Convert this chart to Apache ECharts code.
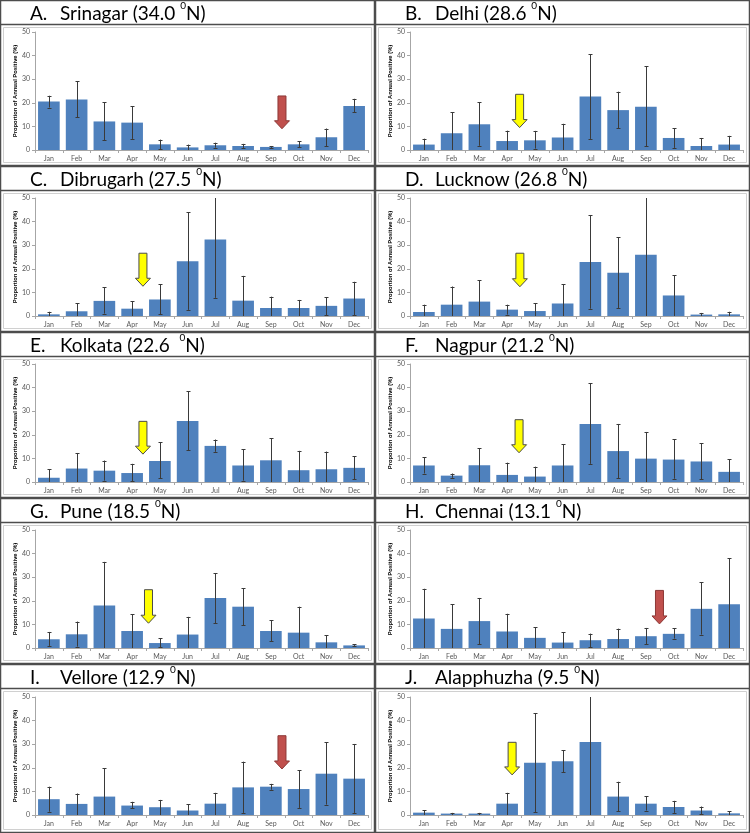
<!DOCTYPE html>
<html><head><meta charset="utf-8">
<script src="https://cdn.jsdelivr.net/npm/echarts@6/dist/echarts.min.js"></script>
<style>html,body{margin:0;padding:0;background:#fff}#c{width:750px;height:833px}</style>
</head><body><div id="c"></div>
<script>
// ---------- DATA ----------
const months = ['Jan','Feb','Mar','Apr','May','Jun','Jul','Aug','Sep','Oct','Nov','Dec'];
const yTickValues = [0, 10, 20, 30, 40, 50];
const yAxisTitle = 'Proportion of Annual Positive (%)';

const letters = ['A.','B.','C.','D.','E.','F.','G.','H.','I.','J.'];
const cities = ['Srinagar','Delhi','Dibrugarh','Lucknow','Kolkata','Nagpur','Pune','Chennai','Vellore','Alapphuzha'];
const latitudes = ['34.0 ','28.6 ','27.5 ','26.8 ','22.6  ','21.2 ','18.5 ','13.1 ','12.9 ','9.5 '];

const srinagarVal  = [20.5,21.4,12.1,11.6,2.4,1.1,2.0,1.7,1.3,2.4,5.4,18.6];
const srinagarLow  = [18.0,13.8,4.1,4.7,0.3,0,1.0,0.9,0.9,1.1,1.7,15.9];
const srinagarHigh = [23.0,29.1,20.2,18.5,4.4,2.3,3.1,2.6,1.7,3.8,9.1,21.7];

const delhiVal  = [2.3,7.1,10.9,3.8,4.1,5.3,22.7,16.9,18.3,5.1,1.7,2.3];
const delhiLow  = [0,0,1.8,0,0.6,0,4.7,9.2,1.6,0.9,0,0];
const delhiHigh = [4.8,15.9,20.2,8.2,8.1,11.1,40.6,24.7,35.5,9.2,5.1,6.0];

const dibrugarhVal  = [0.7,2.0,6.4,3.1,7.0,23.2,32.4,6.5,3.4,3.4,4.3,7.4];
const dibrugarhLow  = [0,0,1.0,0,0.7,2.6,7.7,0,0,0,0.4,0.4];
const dibrugarhHigh = [1.8,5.4,12.1,6.3,13.4,44.0,50,17.0,8.2,6.8,8.0,14.5];

const lucknowVal  = [1.7,4.8,6.1,2.7,2.1,5.3,22.9,18.3,26.0,8.7,0.6,0.7];
const lucknowLow  = [0,0,0,0.6,0,0,3.1,3.4,0,0,0,0];
const lucknowHigh = [4.8,12.5,15.1,4.8,5.4,13.5,42.8,33.4,50,17.3,1.3,1.8];

const kolkataVal  = [1.8,5.7,4.8,3.8,8.9,25.9,15.3,7.0,9.2,5.0,5.4,6.0];
const kolkataLow  = [0,0,0.6,0.3,1.6,13.4,12.8,0.6,0,0,0,1.1];
const kolkataHigh = [5.3,12.3,9.1,7.7,16.8,38.5,18.0,13.9,18.5,13.2,12.9,10.9];

const nagpurVal  = [7.0,2.7,7.1,3.0,2.3,7.0,24.6,13.1,9.9,9.5,8.7,4.3];
const nagpurLow  = [3.6,1.8,0,0,0,0,7.7,1.6,0,1.4,1.1,0];
const nagpurHigh = [10.4,3.6,14.3,8.2,6.5,15.9,41.9,24.6,21.2,18.2,16.5,9.7];

const puneVal  = [3.7,5.8,18.0,7.2,2.1,5.7,21.2,17.5,7.2,6.5,2.4,1.1];
const puneLow  = [0.9,0.6,0,0,0.4,0,10.5,9.7,2.8,0,0,0.9];
const puneHigh = [6.8,11.2,36.5,14.3,4.1,13.2,31.7,25.4,11.8,17.5,5.4,1.6];

const chennaiVal  = [12.5,8.1,11.4,7.0,4.3,2.3,3.3,3.8,5.0,6.0,16.6,18.5];
const chennaiLow  = [0,0,1.7,0,0,0,0.4,0,1.6,4.0,5.7,0];
const chennaiHigh = [25.1,18.6,21.2,14.5,8.8,6.7,6.1,8.2,8.5,8.4,27.8,38.1];

const velloreVal  = [6.7,4.7,7.8,4.0,3.3,1.9,4.8,11.7,12.0,11.0,17.5,15.4];
const velloreLow  = [1.4,0,0,2.8,0,0,0,0.9,10.7,3.0,4.4,0.9];
const velloreHigh = [12.0,9.1,19.9,5.6,6.4,4.6,9.4,22.6,13.2,18.9,30.8,30.1];

const alapphuzhaVal  = [1.0,0.6,0.6,4.8,22.1,22.8,30.9,7.8,4.8,3.4,1.9,0.7];
const alapphuzhaLow  = [0,0,0,0,1.3,18.1,0,1.6,1.9,0.9,0.4,0];
const alapphuzhaHigh = [2.1,0.9,0.9,9.4,43.2,27.4,50,14.1,8.0,6.0,3.6,1.6];

// arrow annotations: [category position, top value, tip value]
const arrowSrinagar   = [8.4, 22.9, 9.0];
const arrowDelhi      = [3.45, 23.6, 9.5];
const arrowDibrugarh  = [3.39, 26.6, 12.6];
const arrowLucknow    = [3.46, 26.6, 12.4];
const arrowKolkata    = [3.39, 25.7, 11.8];
const arrowNagpur     = [3.43, 26.4, 12.4];
const arrowPune       = [3.59, 24.7, 10.5];
const arrowChennai    = [8.49, 24.4, 10.2];
const arrowVellore    = [8.4, 33.6, 19.5];
const arrowAlapphuzha = [3.18, 30.8, 17.0];
const arrowColors = ['red','yellow','yellow','yellow','yellow','yellow','yellow','red','red','yellow'];

// ---------- BUILD ----------
const vals  = [srinagarVal,delhiVal,dibrugarhVal,lucknowVal,kolkataVal,nagpurVal,puneVal,chennaiVal,velloreVal,alapphuzhaVal];
const lows  = [srinagarLow,delhiLow,dibrugarhLow,lucknowLow,kolkataLow,nagpurLow,puneLow,chennaiLow,velloreLow,alapphuzhaLow];
const highs = [srinagarHigh,delhiHigh,dibrugarhHigh,lucknowHigh,kolkataHigh,nagpurHigh,puneHigh,chennaiHigh,velloreHigh,alapphuzhaHigh];
const arrows = [arrowSrinagar,arrowDelhi,arrowDibrugarh,arrowLucknow,arrowKolkata,arrowNagpur,arrowPune,arrowChennai,arrowVellore,arrowAlapphuzha];

const rowTops = [0, 166, 332, 498, 664];
const rowHeights = [166, 166, 166, 166, 169];
const colW = 375;
const titleH = 24;
const FONT = 'Lato, "Liberation Sans", Arial, sans-serif';

const grid = [], xAxis = [], yAxis = [], series = [], title = [], graphic = [];

function errItem(params, api) {
  const i = api.value(0);
  const loV = api.value(1), hiV = api.value(2);
  const lo = api.coord([i, loV]);
  const hi = api.coord([i, hiV]);
  const x = Math.round(lo[0]) + 0.5;
  const cw = 2;
  const st = { stroke: '#3a3a3a', lineWidth: 1 };
  const ch = [{ type: 'line', shape: { x1: x, y1: lo[1], x2: x, y2: hi[1] }, style: st }];
  if (hiV < 50) ch.push({ type: 'line', shape: { x1: x - cw, y1: Math.round(hi[1]) + 0.5, x2: x + cw, y2: Math.round(hi[1]) + 0.5 }, style: st });
  if (loV > 0) ch.push({ type: 'line', shape: { x1: x - cw, y1: Math.round(lo[1]) + 0.5, x2: x + cw, y2: Math.round(lo[1]) + 0.5 }, style: st });
  return { type: 'group', children: ch };
}

function arrowItemFactory(color) {
  return function (params, api) {
    const pos = api.value(0);
    const i0 = Math.floor(pos), f = pos - i0;
    const a = api.coord([i0, api.value(1)]);
    const b = api.coord([i0 + 1, api.value(2)]);
    const x = a[0] + f * (b[0] - a[0]);
    const yTop = a[1], yTip = b[1];
    const sw = 4, hw = 7.5, hl = 8;
    const pts = [[x - sw, yTop], [x + sw, yTop], [x + sw, yTip - hl], [x + hw, yTip - hl], [x, yTip], [x - hw, yTip - hl], [x - sw, yTip - hl]];
    const fill = color === 'red' ? '#C0504D' : '#FFFF00';
    const stroke = color === 'red' ? '#8c3836' : '#4a4a4a';
    return { type: 'polygon', shape: { points: pts }, style: { fill: fill, stroke: stroke, lineWidth: 1 } };
  };
}

for (let p = 0; p < 10; p++) {
  const r = Math.floor(p / 2), c = p % 2;
  const x0 = c * colW, y0 = rowTops[r], h = rowHeights[r];
  // frames
  graphic.push({ type: 'rect', silent: true, z: -1, shape: { x: x0 + 0.5, y: y0 + 0.5, width: colW - 1, height: h - 1 }, style: { fill: '#fff', stroke: '#4d4d4d', lineWidth: 1.5 } });
  graphic.push({ type: 'line', silent: true, shape: { x1: x0, y1: y0 + titleH + 0.5, x2: x0 + colW, y2: y0 + titleH + 0.5 }, style: { stroke: '#4d4d4d', lineWidth: 1.5 } });
  graphic.push({ type: 'rect', silent: true, z: -1, shape: { x: x0 + 3.5, y: y0 + titleH + 3.5, width: colW - 7, height: h - titleH - 7 }, style: { fill: '#fff', stroke: '#d0d0d0', lineWidth: 1 } });

  title.push({
    text: '{a|' + letters[p] + '}{n|' + cities[p] + ' (' + latitudes[p] + '}{s|0}{n|N)}',
    left: x0 + 30, top: y0 + 1, padding: 0,
    textStyle: { fontWeight: 'normal', rich: {
      a: { fontFamily: FONT, fontSize: 19, fontWeight: 'normal', color: '#000', lineHeight: 22, verticalAlign: 'bottom', width: 30 },
      n: { fontFamily: FONT, fontSize: 19, fontWeight: 'normal', color: '#000', lineHeight: 22, verticalAlign: 'bottom' },
      s: { fontFamily: FONT, fontSize: 10, fontWeight: 'normal', color: '#000', lineHeight: 12, verticalAlign: 'top' }
    } }
  });

  grid.push({ left: x0 + 35, top: y0 + 32 + (r === 4 ? 1 : 0), width: 333, height: 118 });
  xAxis.push({
    type: 'category', gridIndex: p, data: months,
    axisLine: { lineStyle: { color: '#a6a6a6', width: 1 } },
    axisTick: { show: true, length: 3, lineStyle: { color: '#a6a6a6' } },
    axisLabel: { fontFamily: FONT, fontSize: 7, color: '#595959', margin: 5 },
    splitLine: { show: false }
  });
  yAxis.push({
    type: 'value', gridIndex: p, min: 0, max: 50, interval: 10,
    name: yAxisTitle, nameLocation: 'middle', nameGap: 17, nameRotate: 90,
    nameTextStyle: { fontFamily: '"Liberation Sans", Arial, sans-serif', fontSize: 5.8, fontWeight: 'bold', color: '#000' },
    axisLine: { show: true, lineStyle: { color: '#a6a6a6', width: 1 } },
    axisTick: { show: true, length: 3, lineStyle: { color: '#a6a6a6' } },
    axisLabel: { fontFamily: FONT, fontSize: 7, color: '#595959', margin: 5 },
    splitLine: { show: false }
  });
  series.push({
    type: 'bar', xAxisIndex: p, yAxisIndex: p, data: vals[p],
    barCategoryGap: '22%', itemStyle: { color: '#4F81BD' }, silent: true, animation: false
  });
  series.push({
    type: 'custom', xAxisIndex: p, yAxisIndex: p, z: 5, silent: true, animation: false,
    data: months.map((m, i) => [i, lows[p][i], highs[p][i]]),
    encode: { x: 0, y: [1, 2] },
    renderItem: errItem
  });
  series.push({
    type: 'custom', xAxisIndex: p, yAxisIndex: p, z: 6, silent: true, animation: false,
    data: [arrows[p]], encode: { x: 0, y: [1, 2] },
    renderItem: arrowItemFactory(arrowColors[p])
  });
}

const chart = echarts.init(document.getElementById('c'), null, { renderer: 'canvas' });
chart.setOption({ animation: false, backgroundColor: '#fff', title, grid, xAxis, yAxis, series, graphic });
</script>
</body></html>
